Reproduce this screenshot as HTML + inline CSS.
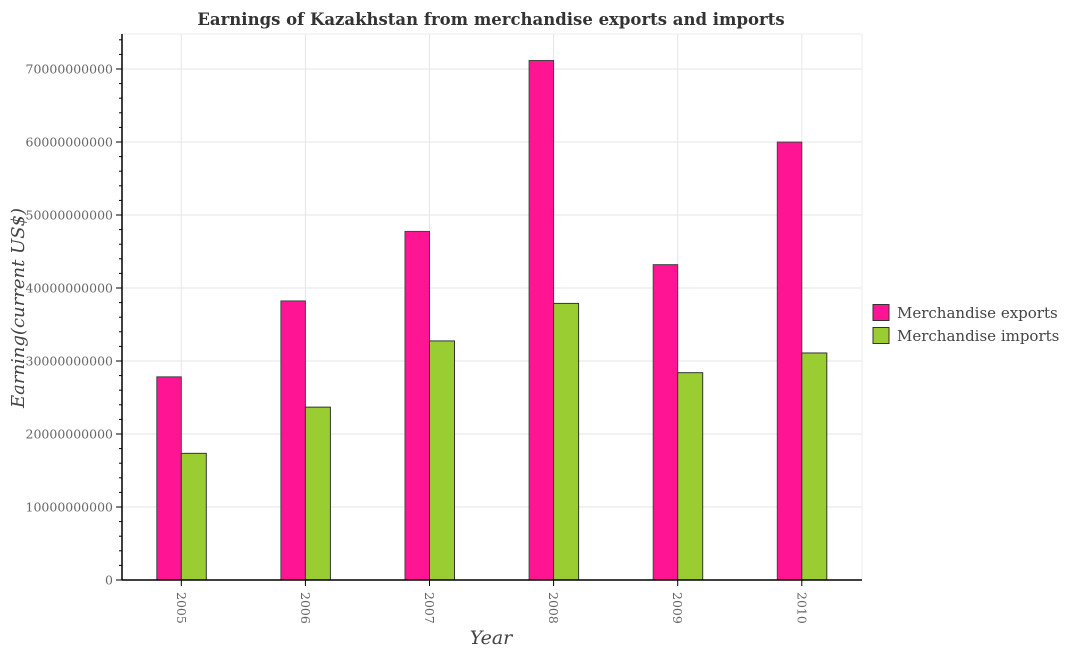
<!DOCTYPE html>
<html><head><meta charset="utf-8"><style>body{margin:0;background:#fff}svg{display:block}text{font-family:"DejaVu Serif","Liberation Serif",serif}</style></head>
<body>
<svg id="chart" width="1068" height="650" xmlns="http://www.w3.org/2000/svg">
<text x="491" y="25" text-anchor="middle" font-size="16.5" font-weight="bold" fill="#333">Earnings of Kazakhstan from merchandise exports and imports</text>
<g id="grid"></g><g id="bars"></g><g id="axes"></g>
<text x="491" y="644" text-anchor="middle" font-size="19" font-style="italic" fill="#444">Year</text>
<text transform="translate(24,308) rotate(-90)" text-anchor="middle" font-size="18" font-style="italic" fill="#444">Earning(current US$)</text>
<g>
<rect x="873" y="304.5" width="16" height="16" fill="#ff1493" stroke="#333"/>
<text x="897" y="318" font-size="15" fill="#444">Merchandise exports</text>
<rect x="873" y="327.5" width="16" height="16" fill="#9acd32" stroke="#333"/>
<text x="897" y="341" font-size="15" fill="#444">Merchandise imports</text>
</g>
</svg>
<script>
const years = ["2005","2006","2007","2008","2009","2010"];
const exportsVals = [2.783e10, 3.823e10, 4.775e10, 7.117e10, 4.320e10, 5.999e10];
const importsVals = [1.735e10, 2.368e10, 3.275e10, 3.789e10, 2.840e10, 3.110e10];
const yTicks = [0,1e10,2e10,3e10,4e10,5e10,6e10,7e10];
const yTickLabels = ["0","10000000000","20000000000","30000000000","40000000000","50000000000","60000000000","70000000000"];
const NS="http://www.w3.org/2000/svg";
const L=122,R=862,T=34,B=580;
function y(v){return B-v/1e10*73;}
function x(i){return 181.3+i*124.1;}
function el(t,a,p){const e=document.createElementNS(NS,t);for(const k in a)e.setAttribute(k,a[k]);p.appendChild(e);return e;}
const grid=document.getElementById('grid'),bars=document.getElementById('bars'),axes=document.getElementById('axes');
yTicks.forEach((v,i)=>{
 const g=el('line',{x1:L,x2:R,y1:y(v),y2:y(v),stroke:'#e6e6e6'},grid);
 
 
 const t=el('line',{x1:L-6,x2:L,y1:y(v),y2:y(v),stroke:'#000'},axes);
 
 
 const tx=el('text',{x:L-9,y:y(v)+4.5,'text-anchor':'end','font-size':'12.5',fill:'#666'},axes);
 tx.textContent=yTickLabels[i];
 
 
});
for(let v=2e9;v<7.5e10;v+=2e9){if(Math.round(v/1e9)%10===0)continue;if(y(v)<T)break;
 const m=el('line',{x1:L-3,x2:L,y1:y(v),y2:y(v),stroke:'#000'},axes);
 
 }
el('line',{x1:L,x2:R,y1:T,y2:T,stroke:'#eee'},grid);
el('line',{x1:R,x2:R,y1:T,y2:B,stroke:'#eee'},grid);
years.forEach((yr,i)=>{
 const cx=x(i);
 const g=el('line',{x1:cx,x2:cx,y1:T,y2:B,stroke:'#e6e6e6'},grid);
 
 
 const be=el('rect',{x:cx-24.5,y:y(exportsVals[i]),width:24.5,height:B-y(exportsVals[i]),fill:'#ff1493',stroke:'#444','stroke-width':1},bars);
 
 
 const bi=el('rect',{x:cx,y:y(importsVals[i]),width:25,height:B-y(importsVals[i]),fill:'#9acd32',stroke:'#333','stroke-width':1},bars);
 
 
 const t=el('line',{x1:cx,x2:cx,y1:B,y2:B+6,stroke:'#000'},axes);
 
 
 const tx=el('text',{transform:`translate(${cx-4.5},${592}) rotate(90)`,'font-size':'12.5',fill:'#666'},axes);
 tx.textContent=yr;
 
 
});
const ax=el('line',{x1:L,x2:L,y1:T,y2:B,stroke:'#000','stroke-width':1.5},axes);


const bx=el('line',{x1:L,x2:R,y1:B,y2:B,stroke:'#000','stroke-width':1.5},axes);


</script>
</body></html>
